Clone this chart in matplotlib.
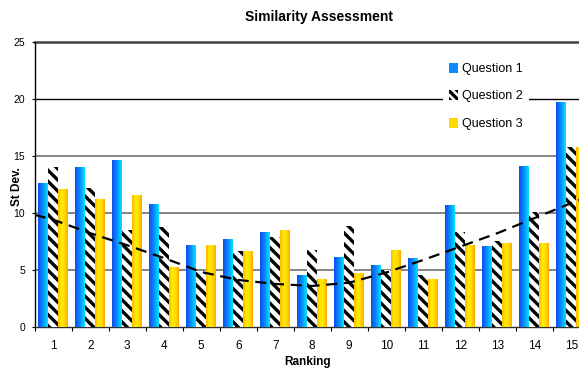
import numpy as np
import matplotlib
matplotlib.use("Agg")
import matplotlib.pyplot as plt
from matplotlib.colors import LinearSegmentedColormap
from matplotlib.patches import Patch

plt.rcParams['font.family'] = ['Liberation Sans', 'DejaVu Sans']
plt.rcParams['hatch.linewidth'] = 2.4

BS = chr(92)

categories = [str(i) for i in range(1, 16)]
q1 = [12.66, 14.06, 14.67, 10.8, 7.22, 7.75, 8.36, 4.59, 6.17, 5.46, 6.08, 10.73, 7.13, 14.15, 19.76]
q2 = [14.06, 12.22, 8.54, 8.8, 4.88, 6.69, 7.92, 6.78, 8.89, 5.03, 4.59, 8.36, 7.57, 10.11, 15.8]
q3 = [12.13, 11.25, 11.6, 5.29, 7.22, 6.69, 8.54, 4.24, 4.76, 6.78, 4.24, 7.22, 7.39, 7.39, 15.8]
trend_x = [0.5, 1, 2, 3, 4, 5, 6, 7, 8, 9, 10, 11, 12, 13, 14, 15, 15.5]
trend_y = [9.85, 9.43, 8.25, 7.19, 6.06, 4.85, 4.15, 3.8, 3.62, 3.91, 4.8, 5.9, 7.07, 8.24, 9.56, 10.88, 11.5]
series_names = ["Question 1", "Question 2", "Question 3"]

W, H = 579, 369
fig = plt.figure(figsize=(W / 100, H / 100), dpi=100)
ax = fig.add_axes([34.7 / W, 1 - 327.3 / H, 555 / W, (327.3 - 42) / H])

x = np.arange(1, 16)
bw = 0.27

blue_cmap = LinearSegmentedColormap.from_list("b", ["#0a4cf0", "#0a8cff", "#00e6ff"])
yel_cmap = LinearSegmentedColormap.from_list("y", ["#ffb400", "#ffee00", "#ffdc00", "#ffa800"])
grad = np.linspace(0, 1, 64).reshape(1, -1)

b1 = ax.bar(x - bw, q1, bw, color="none", linewidth=0, zorder=3)
b2 = ax.bar(x, q2, bw, color="white", edgecolor="black", hatch=BS * 3, linewidth=0, zorder=3)
b3 = ax.bar(x + bw, q3, bw, color="none", linewidth=0, zorder=3)

for bars, cmap in ((b1, blue_cmap), (b3, yel_cmap)):
    for p in bars:
        x0, y0 = p.get_x(), p.get_y()
        im = ax.imshow(grad, cmap=cmap, aspect="auto",
                       extent=(x0, x0 + p.get_width(), y0, y0 + p.get_height()),
                       zorder=3, interpolation="bilinear")
        im.set_clip_path(p)

ax.plot(trend_x, trend_y, color="black", linestyle=(0, (5, 3)), linewidth=1.6, zorder=4)

ax.set_xlim(0.5, 15.5)
ax.set_ylim(0, 25)
ax.set_yticks([0, 5, 10, 15, 20, 25])
ax.set_xticks(np.arange(0.5, 16, 1))
ax.set_xticklabels([])
ax.set_xticks(x, minor=True)
ax.set_xticklabels(categories, minor=True)
ax.tick_params(axis="x", which="minor", length=0, labelsize=8.5, pad=9)
ax.tick_params(axis="x", which="major", length=3, width=0.8, direction="out")
ax.tick_params(axis="y", length=2, width=0.8, labelsize=7.5, pad=5)

for yv in [5, 10, 15]:
    ax.axhline(yv, color="#707070", linewidth=1.2, zorder=1)
ax.axhline(20, color="black", linewidth=1.0, zorder=1)
ax.axhline(25, color="#404040", linewidth=1.8, zorder=1, clip_on=False)

for s in ("top", "right"):
    ax.spines[s].set_visible(False)
ax.spines["left"].set_linewidth(1.0)
ax.spines["bottom"].set_linewidth(1.0)
ax.spines["bottom"].set_color("#303030")
ax.set_xlim(0.5, 15.5)
ax.set_ylim(0, 25)

handles = [Patch(facecolor="#0a8cff", edgecolor="none"),
           Patch(facecolor="white", edgecolor="black", hatch=BS * 4, linewidth=0),
           Patch(facecolor="#ffd800", edgecolor="none")]
leg = ax.legend(handles, series_names, loc="upper left", bbox_to_anchor=((437 - 34.7) / 555, 1 - (50 - 42) / 285.3),
                frameon=True, fontsize=9, handlelength=0.7, handleheight=0.9, handletextpad=0.3,
                labelspacing=1.2, borderpad=0.5, fancybox=False)
leg.get_frame().set_edgecolor("none")
leg.get_frame().set_facecolor("white")
leg.get_frame().set_alpha(1)
leg.set_zorder(5)

fig.text(319 / W, 1 - 17 / H, "Similarity Assessment", ha="center", va="center", fontsize=10, fontweight="bold")
fig.text(308 / W, 1 - 362 / H, "Ranking", ha="center", va="center", fontsize=8.5, fontweight="bold")
fig.text(17 / W, 1 - 187 / H, "St Dev.", ha="center", va="center", rotation=90, fontsize=8.5, fontweight="bold")

fig.savefig("out.png", dpi=100)
